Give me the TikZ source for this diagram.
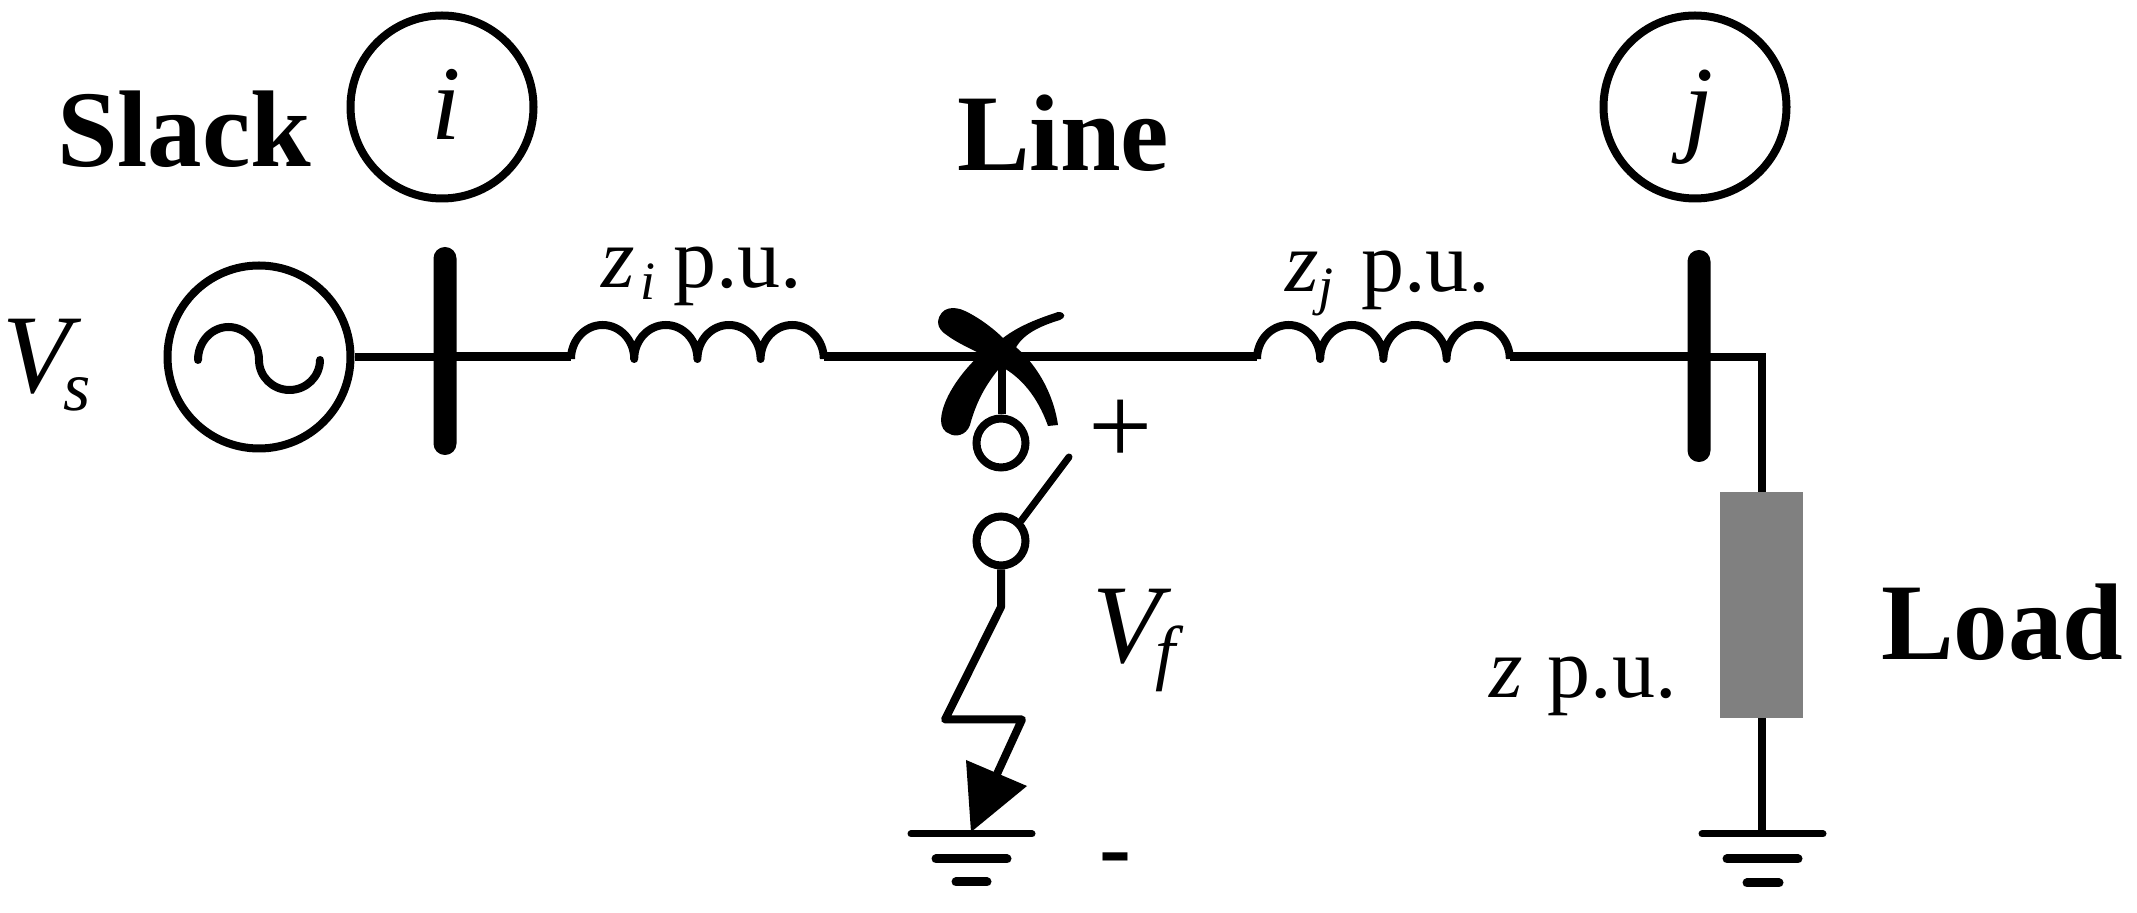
\documentclass[tikz,border=0pt]{standalone}
\usepackage{fontspec}
\setmainfont{Liberation Serif}
\newcommand{\fs}[1]{\fontsize{#1pt}{#1pt}\selectfont}
\tikzset{
  wire/.style={draw=black,line width=4.5pt,line join=round},
  thinwire/.style={draw=black,line width=4pt,line join=miter},
  coil/.style={draw=black,line width=4pt,line join=round,line cap=round},
  gnd/.style={draw=black,line width=4.5pt,line cap=round},
  ringnode/.style={circle,draw=black,line width=4pt,minimum size=91.5pt,inner sep=0pt,fill=white},
  contact/.style={circle,draw=black,line width=4pt,minimum size=24.5pt,inner sep=0pt,fill=white},
  busbar/.style={rectangle,fill=black,rounded corners=5.7pt,minimum width=11.5pt,inner sep=0pt},
  txt/.style={anchor=base west,inner sep=0pt,outer sep=0pt},
  hd/.style={txt,font=\fs{54.5}\bfseries},
  lbl/.style={txt,font=\fs{43}},
  load/.style={rectangle,fill=loadgray,minimum width=41.5pt,minimum height=113pt,inner sep=0pt}
}
\definecolor{loadgray}{HTML}{808080}
\begin{document}
\begin{tikzpicture}[x=0.5pt,y=-0.5pt]
\useasboundingbox (0,0) rectangle (2137,913);
% named points
\coordinate (c1a) at (571,359);
\coordinate (c2a) at (1257,359);
\coordinate (fault) at (1002,357);
\coordinate (corner) at (1762,357);
\coordinate (z1) at (1001,607);
\coordinate (z2) at (945,719.5);
\coordinate (z3) at (1022,719.5);
\coordinate (z4) at (997,774);
\coordinate (swtip) at (1069,457);
\coordinate (g2) at (1762,834);
% buses, source, rings
\node[busbar,minimum height=104pt] (busi) at (445,351) {};
\node[busbar,minimum height=106pt] (busj) at (1699,356) {};
\node[ringnode] (gen) at (259,357) {};
\node[ringnode] (ri) at (442,107) {};
\node[ringnode] (rj) at (1695,107) {};
\node[load] (zl) at (1761,605) {};
% sine in the source
\draw[coil] (198,360) arc[start angle=180,end angle=0,x radius=15.25pt,y radius=16.5pt]
            arc[start angle=180,end angle=360,x radius=15.25pt,y radius=15pt];
% coils
\draw[coil,line cap=butt] (c1a)
  arc[start angle=180,end angle=0,x radius=15.8pt,y radius=17pt]
  arc[start angle=180,end angle=0,x radius=15.8pt,y radius=17pt]
  arc[start angle=180,end angle=0,x radius=15.8pt,y radius=17pt]
  arc[start angle=180,end angle=0,x radius=15.8pt,y radius=17pt] coordinate (c1b);
\draw[coil,line cap=butt] (c2a)
  arc[start angle=180,end angle=0,x radius=15.8pt,y radius=17pt]
  arc[start angle=180,end angle=0,x radius=15.8pt,y radius=17pt]
  arc[start angle=180,end angle=0,x radius=15.8pt,y radius=17pt]
  arc[start angle=180,end angle=0,x radius=15.8pt,y radius=17pt] coordinate (c2b);
% horizontal wires
\draw[thinwire] (gen.east) -- (gen.east -| busi.center);
\draw[wire] (gen.east -| busi.center) -- (gen.east -| c1a);
\draw[wire] (gen.east -| c1b) -- (fault);
\draw[wire] (fault) -- (fault -| c2a);
\draw[wire] (fault -| c2b) -- (fault -| busj.center);
\draw[thinwire] (fault -| busj.center) -- (corner) -- (corner |- zl.north);
\draw[thinwire] (corner |- zl.south) -- (g2);
% fault cross
\fill[black] (938,322) .. controls (940,306) and (955,306) .. (965,311)
  .. controls (980,318) and (995,330) .. (1003,338)
  .. controls (1032,355) and (1053,390) .. (1058,425)
  -- (1048,426)
  .. controls (1037,395) and (1020,377) .. (1002,367)
  .. controls (985,354) and (965,348) .. (948,336)
  .. controls (942,332) and (938,328) .. (938,322) -- cycle;
\fill[black] (941,420) .. controls (942,393) and (975,353) .. (1003,338)
  .. controls (1020,325) and (1040,318) .. (1058,312)
  .. controls (1066,312) and (1066,318) .. (1060,320)
  .. controls (1040,326) and (1020,335) .. (1014,352)
  .. controls (1000,367) and (980,387) .. (970,425)
  .. controls (966,436) and (955,437) .. (950,434)
  .. controls (944,432) and (941,427) .. (941,420) -- cycle;
% fault branch
\node[contact] (k1) at (1001,443) {};
\node[contact] (k2) at (1001,541) {};
\draw[thinwire] (fault) -- (fault |- k1.north);
\draw[line width=3.5pt,line cap=round,draw=black] (k2.north east) -- (swtip);
\draw[thinwire,line join=round] (k2.south) -- (z1) -- (z2) -- (z3) -- (z4);
\fill[black] (966,760) -- (1027,786) -- (971,832) -- cycle;
% grounds
\draw[gnd,line width=3.5pt] (911,834) -- (1032,834);
\draw[gnd] (936,859) -- (1007,859);
\draw[gnd] (956,882) -- (987,882);
\draw[gnd,line width=3.5pt] (1702,834) -- (1823,834);
\draw[gnd] (1727,859) -- (1798,859);
\draw[gnd] (1747,883) -- (1779,883);
% text
\node[hd] (tslack) at (57,167) {Slack};
\node[hd] (tline) at (957,171) {Line};
\node[hd] (tload) at (1881,660) {Load};
\node[txt,font=\fs{53}\itshape] (ti) at (431,140) {i};
\node[txt,font=\fs{54}\itshape] (tj) at (1683,142) {j};
\node[txt,font=\fs{56}\itshape] (tvs) at (3,393) {V\kern-4pt\raisebox{-9pt}{\fs{35}s}};
\node[txt,font=\fs{56}\itshape] (tvf) at (1092,663) {V\kern-2.5pt\raisebox{-7pt}{\fs{36}f}};
\node[lbl] (tzi) at (601,288) {\textit{z}\kern3pt\raisebox{-6pt}{\fs{27}\itshape i}\kern9pt p.u.};
\node[lbl] (tzj) at (1285,292) {\textit{z}\raisebox{-6.5pt}{\fs{27}\itshape j}\kern14pt p.u.};
\node[lbl] (tz) at (1489,698) {\textit{z}\kern2pt\ p.u.};
\node[txt,font=\fs{57}] (tplus) at (1088,465) {+};
\node[txt,font=\fs{48}\bfseries] (tminus) at (1099,879) {-};
\end{tikzpicture}
\end{document}
